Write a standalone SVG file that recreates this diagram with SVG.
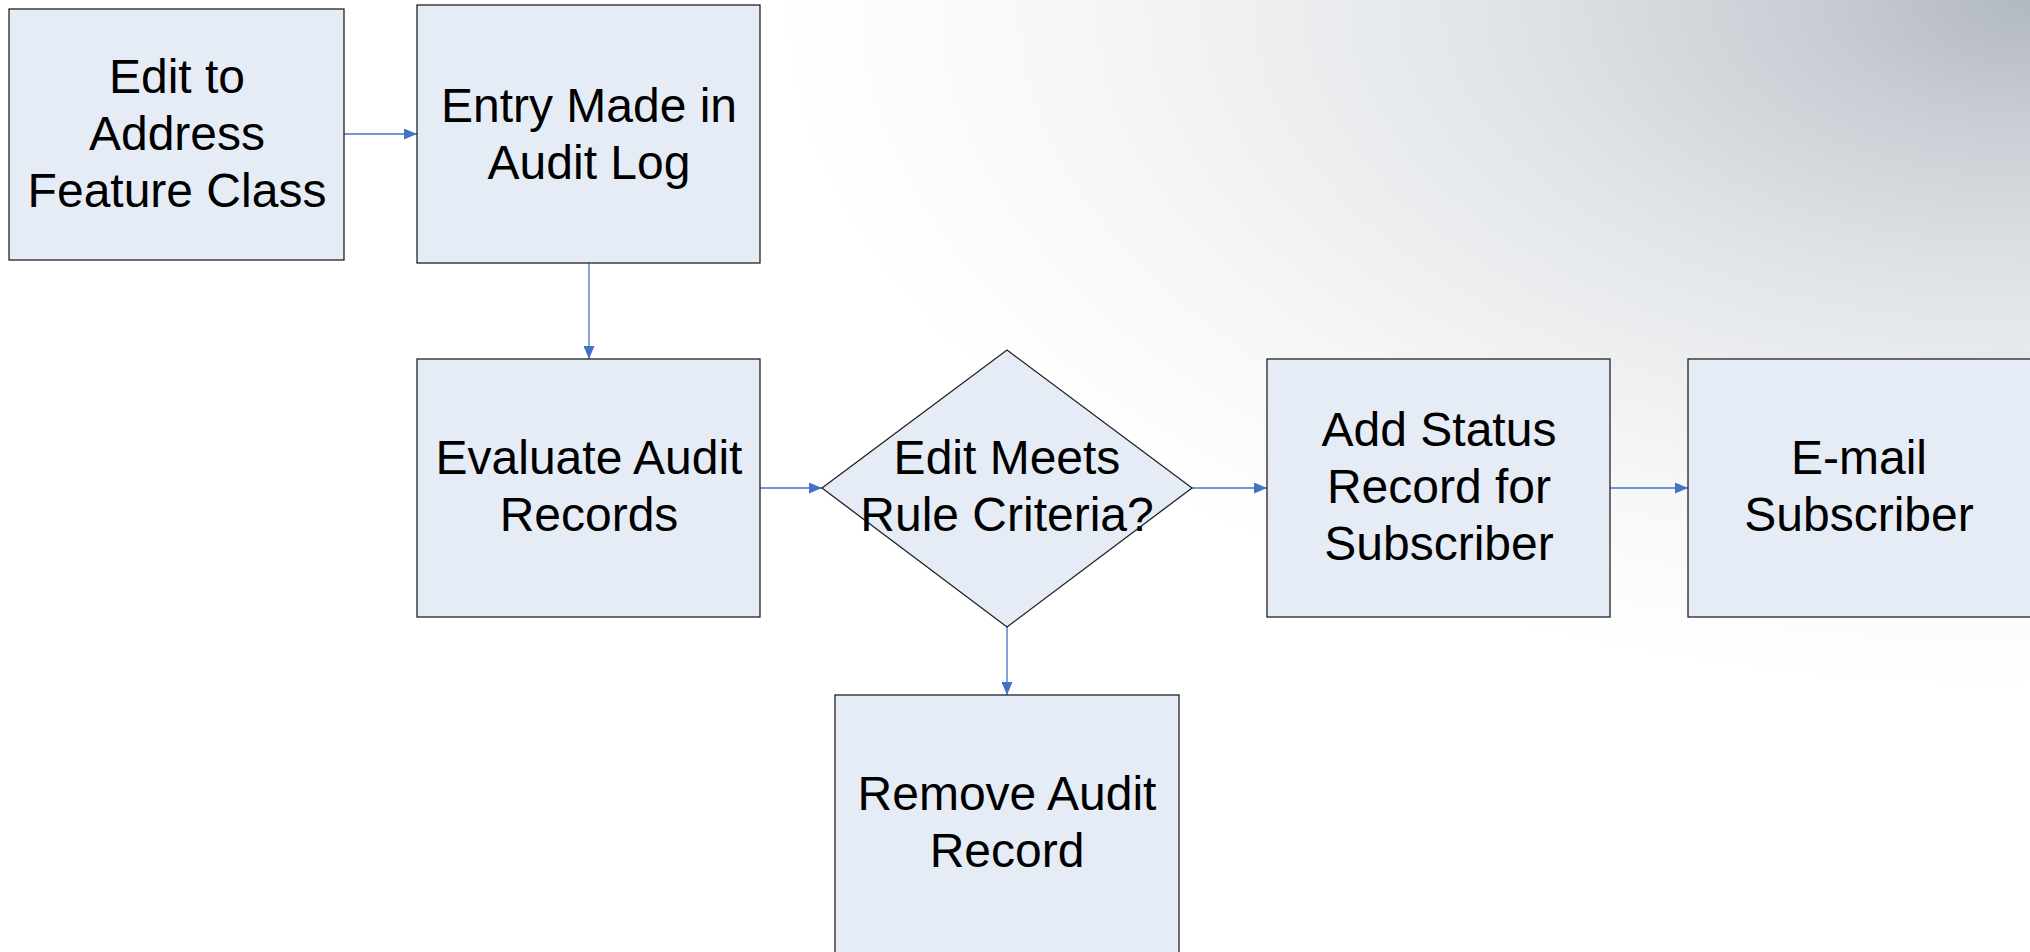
<svg xmlns="http://www.w3.org/2000/svg" width="2030" height="952" viewBox="0 0 2030 952">
<defs>
<radialGradient id="bg" cx="2030" cy="0" r="1250" gradientUnits="userSpaceOnUse" gradientTransform="translate(2030 0) scale(1 0.55) translate(-2030 0)">
<stop offset="0" stop-color="#b2b8c0"/>
<stop offset="0.2" stop-color="#ccd0d6"/>
<stop offset="0.45" stop-color="#e3e6e9"/>
<stop offset="0.75" stop-color="#f5f6f7"/>
<stop offset="1" stop-color="#ffffff"/>
</radialGradient>
<marker id="arr" markerWidth="13" markerHeight="11" refX="13" refY="5.5" orient="auto" markerUnits="userSpaceOnUse">
<path d="M0,0 L13,5.5 L0,11 Z" fill="#4472c4"/>
</marker>
<style>
.box{fill:#e6ecf6;stroke:#222;stroke-width:1.3}
.lbl{font-family:"Liberation Sans",Arial,sans-serif;font-size:48px;fill:#000;text-anchor:middle}
.c{stroke:#4472c4;stroke-width:1.3;fill:none;marker-end:url(#arr)}
</style>
</defs>
<rect width="2030" height="952" fill="#ffffff"/>
<rect width="2030" height="952" fill="url(#bg)"/>
<g id="connectors">
<line class="c" x1="344" y1="134" x2="417" y2="134"/>
<line class="c" x1="589" y1="263" x2="589" y2="359"/>
<line class="c" x1="760" y1="488" x2="822" y2="488"/>
<line class="c" x1="1192" y1="488" x2="1267" y2="488"/>
<line class="c" x1="1610" y1="488" x2="1688" y2="488"/>
<line class="c" x1="1007" y1="627" x2="1007" y2="695"/>
</g>
<g id="n1"><rect class="box" x="9" y="9" width="335" height="251"/>
<text class="lbl" x="177" y="93">Edit to</text><text class="lbl" x="177" y="150">Address</text><text class="lbl" x="177" y="207">Feature Class</text></g>
<g id="n2"><rect class="box" x="417" y="5" width="343" height="258"/>
<text class="lbl" x="589" y="122">Entry Made in</text><text class="lbl" x="589" y="179">Audit Log</text></g>
<g id="n3"><rect class="box" x="417" y="359" width="343" height="258"/>
<text class="lbl" x="589" y="474">Evaluate Audit</text><text class="lbl" x="589" y="531">Records</text></g>
<g id="n4"><polygon class="box" points="1007,350 1192,488 1007,627 822,488"/>
<text class="lbl" x="1007" y="474">Edit Meets</text><text class="lbl" x="1007" y="531">Rule Criteria?</text></g>
<g id="n5"><rect class="box" x="1267" y="359" width="343" height="258"/>
<text class="lbl" x="1439" y="446">Add Status</text><text class="lbl" x="1439" y="503">Record for</text><text class="lbl" x="1439" y="560">Subscriber</text></g>
<g id="n6"><rect class="box" x="1688" y="359" width="345" height="258"/>
<text class="lbl" x="1859" y="474">E-mail</text><text class="lbl" x="1859" y="531">Subscriber</text></g>
<g id="n7"><rect class="box" x="835" y="695" width="344" height="260"/>
<text class="lbl" x="1007" y="810">Remove Audit</text><text class="lbl" x="1007" y="867">Record</text></g>
</svg>
